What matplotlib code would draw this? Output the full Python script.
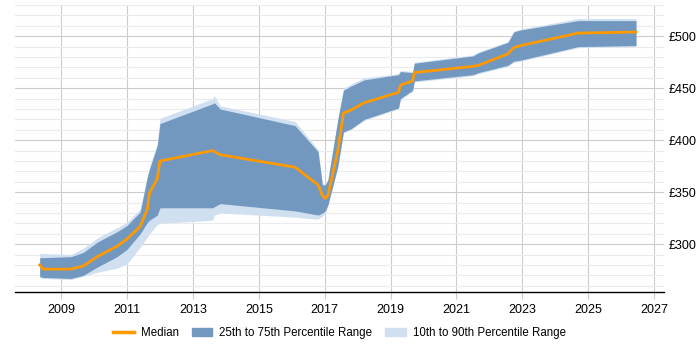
import matplotlib
matplotlib.use("Agg")
import matplotlib.pyplot as plt
from matplotlib.lines import Line2D
from matplotlib.patches import Patch
from matplotlib.ticker import MultipleLocator, FuncFormatter

plt.rcParams['font.family'] = ['Liberation Sans', 'DejaVu Sans']

# Dates (fractional years) et percentiles
years = [2008.35, 2008.45, 2009.3, 2009.67, 2010.1, 2010.7, 2011.0, 2011.4, 2011.62, 2011.68,
         2011.92, 2012.0, 2013.6, 2013.65, 2013.83, 2016.1, 2016.8, 2016.93, 2017.02, 2017.1,
         2017.4, 2017.57, 2017.8, 2018.2, 2019.24, 2019.3, 2019.67, 2019.72, 2021.5, 2021.67,
         2022.56, 2022.74, 2022.95, 2024.7, 2026.45]
median = [280, 276, 276, 279, 288, 298, 305, 317, 334, 349,
          363, 380, 390, 389, 386, 374, 357, 347, 344, 347,
          390, 426, 429, 436, 446, 453, 457, 465, 471, 472,
          483, 489, 491, 503, 504]
p75 = [287, 287, 288, 292, 302, 312, 318, 331, 365, 372,
       395, 416, 435, 436, 430, 414, 389, 357, 357, 362,
       420, 448, 452, 458, 463, 466, 465, 474, 481, 484,
       494, 504, 506, 515, 515]
p25 = [269, 268, 267, 270, 278, 288, 295, 310, 321, 323,
       328, 335, 335, 336, 339, 332, 328, 330, 332, 338,
       375, 408, 411, 420, 431, 440, 448, 457, 463, 465,
       472, 476, 477, 490, 491]
p90 = [291, 291, 290, 296, 306, 316, 321, 334, 366, 374,
       397, 421, 440, 443, 433, 418, 391, 358, 358, 363,
       421, 450, 454, 460, 464, 467, 466, 475, 482, 485,
       495, 505, 507, 517, 517]
p10 = [268, 267, 266, 269, 273, 277, 281, 297, 307, 310,
       319, 320, 323, 328, 330, 326, 324, 327, 330, 337,
       374, 407, 410, 419, 430, 439, 447, 456, 462, 464,
       471, 475, 476, 489, 490]

dark_blue = '#7398c0'
light_blue = '#d0e0f0'
orange = '#ff9900'

fig = plt.figure(figsize=(7, 3.5), dpi=100)
ax = fig.add_axes([0.0214, 0.1657, 0.9272, 0.82])

ax.fill_between(years, p10, p90, color=light_blue, linewidth=0)
ax.fill_between(years, p25, p75, color=dark_blue, linewidth=0)
ax.plot(years, median, color=orange, linewidth=2)

ax.set_xlim(2007.6, 2027.3)
ax.set_ylim(254, 530)

# Grille
ax.set_xticks([2009 + 2 * i for i in range(10)])
ax.xaxis.set_major_formatter(FuncFormatter(lambda v, p: f"{int(v)}"))
ax.yaxis.set_major_locator(MultipleLocator(50))
ax.yaxis.set_minor_locator(MultipleLocator(10))
ax.yaxis.set_major_formatter(FuncFormatter(lambda v, p: f"£{int(v)}"))
ax.grid(True, which='major', axis='both', color='#cccccc', linewidth=0.8)
ax.grid(True, which='minor', axis='y', color='#ebebeb', linewidth=0.8)
ax.set_axisbelow(True)

ax.yaxis.tick_right()
ax.tick_params(axis='y', which='both', length=0, labelsize=9, pad=3)
ax.tick_params(axis='x', length=5, color='#cccccc', labelsize=9)

for side in ['left', 'right', 'top']:
    ax.spines[side].set_visible(False)
ax.spines['bottom'].set_color('black')
ax.spines['bottom'].set_linewidth(1)

handles = [Line2D([], [], color=orange, linewidth=2.5),
           Patch(color=dark_blue),
           Patch(color=light_blue)]
labels = ['Median', '25th to 75th Percentile Range', '10th to 90th Percentile Range']
fig.legend(handles, labels, loc='lower center', bbox_to_anchor=(0.485, 0.003), ncol=3,
           frameon=False, fontsize=8.3, handlelength=1.8, handletextpad=0.6, columnspacing=1.1)

fig.savefig('out.png', dpi=100)
